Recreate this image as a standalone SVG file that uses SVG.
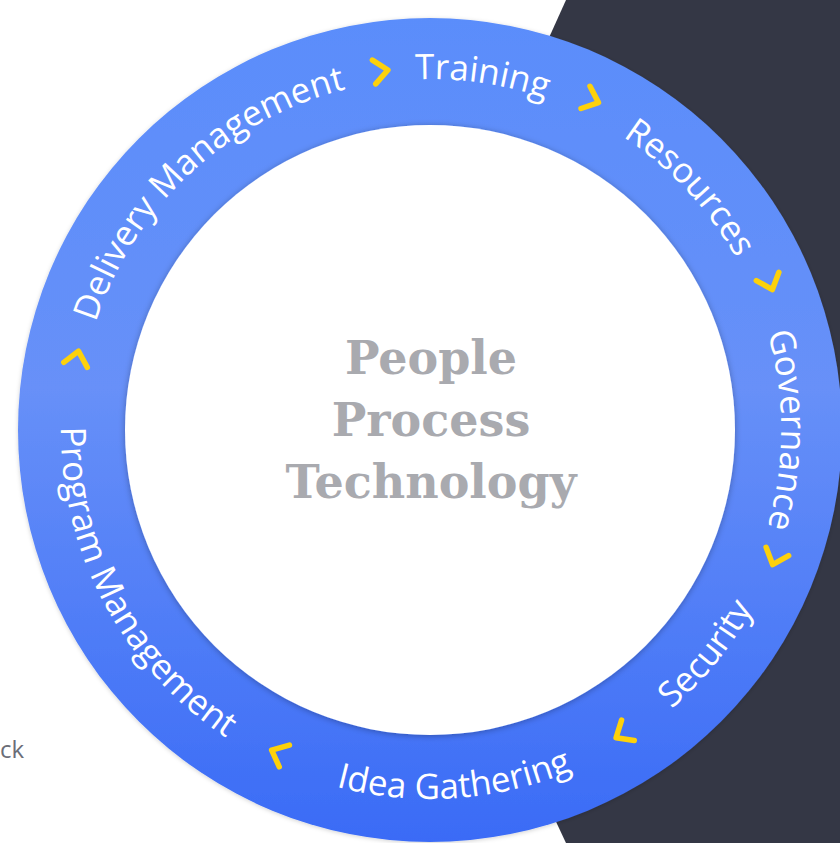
<svg xmlns="http://www.w3.org/2000/svg" width="840" height="843" viewBox="0 0 840 843">
  <defs>
    <linearGradient id="ringFill" x1="0" y1="0" x2="0" y2="1">
      <stop offset="0" stop-color="#5a8dfb"/>
      <stop offset="0.45" stop-color="#6790f8"/>
      <stop offset="1" stop-color="#3a6bf6"/>
    </linearGradient>
    <filter id="softShadow" x="-10%" y="-10%" width="120%" height="120%">
      <feDropShadow dx="0" dy="1" stdDeviation="3" flood-color="#000" flood-opacity="0.3"/>
    </filter>
    <filter id="ringShadow" x="-10%" y="-10%" width="120%" height="120%">
      <feDropShadow dx="0" dy="1" stdDeviation="2" flood-color="#000" flood-opacity="0.18"/>
    </filter>
    <!-- clockwise arcs, baseline inside the band -->
    <path id="arcTraining" d="M97,319.2 A351,351 0 0 1 780.9,420.2"/>
    <path id="arcResources" d="M238.8,135.6 A351,351 0 0 1 710.3,641.2"/>
    <path id="arcGovernance" d="M490.95,84.3 A351,351 0 0 1 490.95,775.7"/>
    <path id="arcDelivery" d="M135.6,621.2 A351,351 0 0 1 641.2,149.7"/>
    <!-- counter-clockwise arcs, baseline outside the band middle -->
    <path id="arcSecurity" d="M251.1,752.7 A369,369 0 0 0 708.5,187.9"/>
    <path id="arcIdea" d="M72,519.3 A369,369 0 0 0 797,468.6"/>
    <path id="arcProgram" d="M202.8,139.2 A369,369 0 0 0 544,781"/>
    <path id="chev" d="M-7,-12 L7,0 L-7,12"/>
  </defs>
  <style>
    .label { font-family: "Open Sans", "Noto Sans", sans-serif; font-size: 35px; fill: #ffffff; }
    .chevron { fill: none; stroke: #fdd10b; stroke-width: 5.5; stroke-linecap: round; stroke-linejoin: round; }
    .core { font-family: "DejaVu Serif", "Liberation Serif", serif; font-weight: bold; font-size: 46px; fill: #a9aaaf; text-anchor: middle; }
  </style>

  <rect width="840" height="843" fill="#ffffff"/>
  <polygon points="566,0 840,0 840,843 566,843 372,430" fill="#343745"/>
  <text x="0" y="758" font-family="Open Sans, Noto Sans, sans-serif" font-size="24" fill="#6b6e78">ck</text>

  <g id="ring">
    <circle cx="430" cy="430" r="412" fill="url(#ringFill)" filter="url(#ringShadow)"/>
    <circle cx="430" cy="430" r="305" fill="#ffffff" filter="url(#softShadow)"/>
  </g>

  <g id="core">
    <text class="core" x="431" y="374">People</text>
    <text class="core" x="431" y="436">Process</text>
    <text class="core" x="431" y="498">Technology</text>
  </g>

  <g id="training"><text class="label" text-anchor="middle"><textPath href="#arcTraining" startOffset="50%">Training</textPath></text></g>
  <g id="resources"><text class="label" text-anchor="middle"><textPath href="#arcResources" startOffset="50%">Resources</textPath></text></g>
  <g id="governance"><text class="label" text-anchor="middle"><textPath href="#arcGovernance" startOffset="50%">Governance</textPath></text></g>
  <g id="security"><text class="label" text-anchor="middle"><textPath href="#arcSecurity" startOffset="50%">Security</textPath></text></g>
  <g id="idea-gathering"><text class="label" text-anchor="middle"><textPath href="#arcIdea" startOffset="50%">Idea Gathering</textPath></text></g>
  <g id="program-management"><text class="label" text-anchor="middle"><textPath href="#arcProgram" startOffset="50%">Program Management</textPath></text></g>
  <g id="delivery-management"><text class="label" text-anchor="middle"><textPath href="#arcDelivery" startOffset="50%">Delivery Management</textPath></text></g>

  <g id="connectors">
    <use href="#chev" class="chevron" transform="translate(381,71) rotate(352)"/>
    <use href="#chev" class="chevron" transform="translate(592,100) rotate(22)"/>
    <use href="#chev" class="chevron" transform="translate(770,283) rotate(70)"/>
    <use href="#chev" class="chevron" transform="translate(775,558) rotate(110)"/>
    <use href="#chev" class="chevron" transform="translate(622,734) rotate(148)"/>
    <use href="#chev" class="chevron" transform="translate(278,753) rotate(205)"/>
    <use href="#chev" class="chevron" transform="translate(77,358) rotate(282)"/>
  </g>
</svg>
